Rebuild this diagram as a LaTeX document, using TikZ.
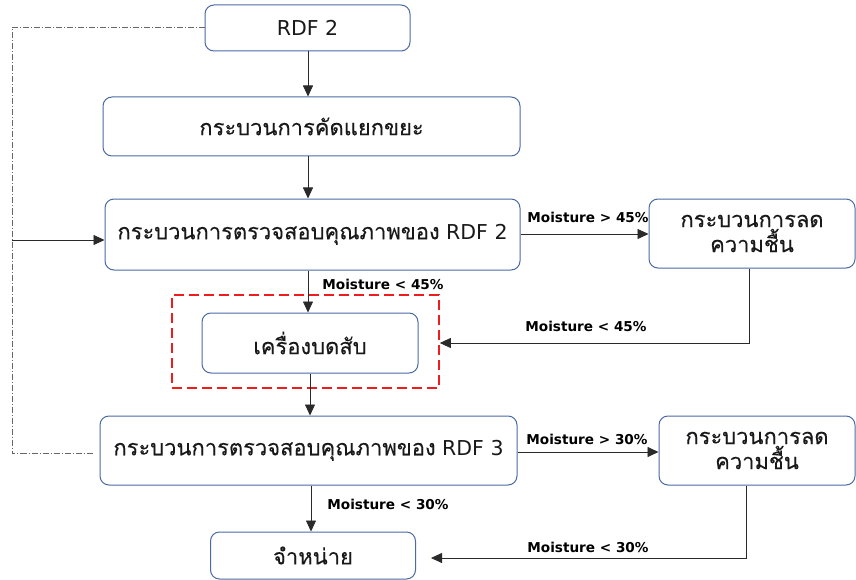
\documentclass[tikz,border=0pt]{standalone}
\usepackage{fontspec}
\setmainfont{DejaVu Sans}
\newfontfamily\thaifont[Script=Thai,Scale=1.07,FakeBold=0.2]{Loma}
\usetikzlibrary{arrows.meta,calc}
\definecolor{boxblue}{HTML}{4A6AA5}
\definecolor{linegray}{HTML}{2A2A2A}
\definecolor{redd}{HTML}{EE1C1C}
\definecolor{dashgray}{HTML}{666666}
\begin{document}
\begin{tikzpicture}[x=1pt,y=-1pt,
  box/.style={draw=boxblue, line width=1pt, rounded corners=9pt, fill=white,
    font=\fontsize{20.5}{25}\selectfont, text=black!90, inner sep=0pt, align=center},
  arr/.style={draw=linegray, line width=0.8pt, -{Triangle[length=11pt,width=10pt]}},
  lbl/.style={font=\bfseries\fontsize{13.6}{15}\selectfont, inner sep=0pt}]
\useasboundingbox[fill=white] (0,0) rectangle (856,580);
% red dashed frame
\node[draw=redd, line width=1.6pt, dash pattern=on 10pt off 5pt,
  minimum width=267pt, minimum height=93pt, inner sep=0pt] (frame) at (305.5,341.5) {};
% boxes
\node[box, minimum width=205pt, minimum height=46pt] (rdf) at (307.5,28) {RDF 2};
\node[box, minimum width=417pt, minimum height=59pt] (sort) at (311.5,126.5) {\thaifont กระบวนการคัดแยกขยะ};
\node[box, minimum width=415pt, minimum height=71pt] (chk2) at (312.5,234.5) {{\thaifont กระบวนการตรวจสอบคุณภาพของ} RDF 2};
\node[box, minimum width=206pt, minimum height=69pt] (dry1) at (752,233.5) {\thaifont กระบวนการลด\\\thaifont ความชื้น};
\node[box, minimum width=216pt, minimum height=60pt] (chop) at (310,343) {\thaifont เครื่องบดสับ};
\node[box, minimum width=417pt, minimum height=69pt] (chk3) at (308.5,450.5) {{\thaifont กระบวนการตรวจสอบคุณภาพของ} RDF 3};
\node[box, minimum width=196pt, minimum height=69pt] (dry2) at (757,450.5) {\thaifont กระบวนการลด\\\thaifont ความชื้น};
\node[box, minimum width=205pt, minimum height=47pt] (sale) at (313,555.5) {\thaifont จำหน่าย};
% helper coordinates
\coordinate (lc1) at (12,27);
\coordinate (lc2) at (12,453);
\coordinate (lc3) at (93,453);
\coordinate (lin) at (12,240);
\coordinate (r1) at (749,343);
\coordinate (r2) at (746,558);
% arrows
\draw[arr] (rdf.south -| 308,0) -- (sort.north -| 308,0);
\draw[arr] (sort.south -| 308,0) -- (chk2.north -| 308,0);
\draw[arr] (chk2.east |- 0,234) -- (dry1.west |- 0,234);
\draw[arr] (chk2.south -| 308,0) -- (chop.north -| 308,0);
\draw[arr] (dry1.south -| r1) -- (r1) -- (frame.east |- r1);
\draw[arr] (chop.south -| 310,0) -- (chk3.north -| 310,0);
\draw[arr] (chk3.east |- 0,452) -- (dry2.west |- 0,452);
\draw[arr] (chk3.south -| 311,0) -- (sale.north -| 311,0);
\draw[arr] (dry2.south -| r2) -- (r2) -- ($(sale.east |- r2)+(15,0)$);
% feedback line
\draw[dashgray, line width=0.7pt, dash pattern=on 6pt off 2pt on 1pt off 2pt]
  (rdf.west |- lc1) -- (lc1) -- (lc2) -- (lc3);
\draw[arr] (lin) -- (chk2.west |- lin);
% labels
\node[lbl] (l1) at (588,217) {Moisture > 45\%};
\node[lbl] (l2) at (383,284) {Moisture < 45\%};
\node[lbl] (l3) at (586,326) {Moisture < 45\%};
\node[lbl] (l4) at (587,439) {Moisture > 30\%};
\node[lbl] (l5) at (388,504) {Moisture < 30\%};
\node[lbl] (l6) at (588,547) {Moisture < 30\%};
\end{tikzpicture}
\end{document}
